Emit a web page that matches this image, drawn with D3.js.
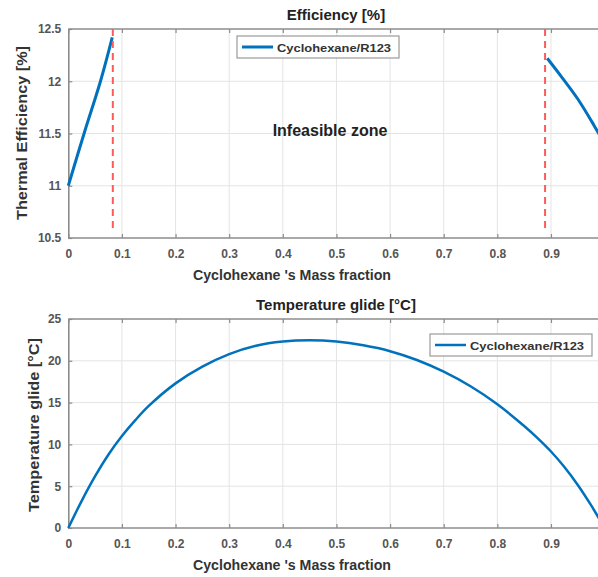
<!DOCTYPE html>
<html>
<head>
<meta charset="utf-8">
<script src="https://cdn.jsdelivr.net/npm/d3@7"></script>
<style>
  body { margin: 0; background: #fff; }
  text { font-family: "Liberation Sans", Arial, sans-serif; font-weight: bold; }
</style>
</head>
<body>
<div id="chart"></div>
<script>
// efficiency, feasible parts only
var effLeftX = [0, 0.03, 0.06, 0.082];
var effLeftY = [11.0, 11.51, 12.0, 12.42];
var effRightX = [0.893, 0.92, 0.95, 0.98, 1.0];
var effRightY = [12.22, 12.04, 11.83, 11.58, 11.4];
var limitX = [0.083, 0.889];

// temperature glide
var glideX = [0, 0.025, 0.05, 0.075, 0.1, 0.125, 0.15, 0.2, 0.25, 0.3, 0.35, 0.4, 0.45, 0.5, 0.55, 0.6, 0.65, 0.7, 0.75, 0.8, 0.85, 0.875, 0.9, 0.925, 0.95, 0.975, 1.0];
var glideY = [0, 3.25, 6.2, 8.8, 11.0, 12.9, 14.6, 17.3, 19.3, 20.8, 21.8, 22.3, 22.45, 22.3, 21.85, 21.15, 20.1, 18.7, 16.95, 14.8, 12.2, 10.75, 9.15, 7.3, 5.15, 2.7, 0];

var xTicks = [0, 0.1, 0.2, 0.3, 0.4, 0.5, 0.6, 0.7, 0.8, 0.9];
var effTicks = [10.5, 11, 11.5, 12, 12.5];
var glideTicks = [0, 5, 10, 15, 20, 25];
var seriesName = "Cyclohexane/R123";
var xTitle = "Cyclohexane 's Mass fraction";

var W = 598, H = 577;
var blue = "#0072bd";

var svg = d3.select("#chart").append("svg")
	.attr("width", W)
	.attr("height", H);

var x = d3.scaleLinear().domain([0, 1]).range([68.3, 604.6]);

function zip(a, b) {
	return a.map(function (v, i) { return [v, b[i]]; });
}

function panel(o) {
	var y = d3.scaleLinear().domain(o.ydom).range([o.bottom, o.top]);
	var g = svg.append("g");

	// grid
	g.selectAll(".gx").data(xTicks.slice(1)).enter().append("line")
		.attr("x1", function (d) { return x(d); })
		.attr("x2", function (d) { return x(d); })
		.attr("y1", o.top).attr("y2", o.bottom)
		.attr("stroke", "#e4e4e4").attr("stroke-width", 1);
	g.selectAll(".gy").data(o.yticks.slice(1, -1)).enter().append("line")
		.attr("x1", x(0)).attr("x2", W)
		.attr("y1", function (d) { return y(d); })
		.attr("y2", function (d) { return y(d); })
		.attr("stroke", "#e4e4e4").attr("stroke-width", 1);

	// axes, ticks inward like matlab
	var ax = g.append("g").attr("transform", "translate(0," + o.bottom + ")")
		.call(d3.axisBottom(x).tickValues(xTicks).tickSizeInner(-4).tickSizeOuter(0)
			.tickPadding(11).tickFormat(d3.format("~g")));
	var axTop = g.append("g").attr("transform", "translate(0," + o.top + ")")
		.call(d3.axisTop(x).tickValues(xTicks).tickSizeInner(-4).tickSizeOuter(0).tickFormat(""));
	var ay = g.append("g").attr("transform", "translate(" + x(0) + ",0)")
		.call(d3.axisLeft(y).tickValues(o.yticks).tickSizeInner(-4).tickSizeOuter(0)
			.tickPadding(7).tickFormat(d3.format("~g")));
	[ax, axTop, ay].forEach(function (a) {
		a.select(".domain").attr("stroke", "#8c8c8c").attr("stroke-width", 1.6);
		a.selectAll(".tick line").attr("stroke", "#8c8c8c").attr("stroke-width", 1.2);
		a.selectAll(".tick text").attr("fill", "#555").style("font-size", "12px")
			.attr("font-family", "Liberation Sans, Arial, sans-serif").attr("font-weight", "bold");
	});
	// top spine spans the whole width
	axTop.select(".domain").attr("d", "M" + x(0) + ",0H" + W);
	ax.select(".domain").attr("d", "M" + x(0) + ",0H" + W);

	var line = d3.line()
		.x(function (d) { return x(d[0]); })
		.y(function (d) { return y(d[1]); })
		.curve(d3.curveCatmullRom.alpha(0.5));

	o.series.forEach(function (s) {
		g.append("path").datum(s)
			.attr("d", line)
			.attr("fill", "none")
			.attr("stroke", blue)
			.attr("stroke-width", o.lw);
	});

	// titles
	g.append("text").attr("x", 336).attr("y", o.top - 9)
		.attr("text-anchor", "middle").style("font-size", "15px").attr("fill", "#222")
		.text(o.title);
	g.append("text").attr("x", 292).attr("y", o.bottom + 42)
		.attr("text-anchor", "middle").style("font-size", "14px").attr("fill", "#333")
		.attr("textLength", 198).attr("lengthAdjust", "spacingAndGlyphs")
		.text(xTitle);
	g.append("text")
		.attr("transform", "translate(" + o.ylabX + "," + o.ylabY + ") rotate(-90)")
		.attr("text-anchor", "middle").style("font-size", "14px").attr("fill", "#333")
		.attr("textLength", 174).attr("lengthAdjust", "spacingAndGlyphs")
		.text(o.ylabel);

	// legend
	var lg = g.append("g").attr("transform", "translate(" + o.leg[0] + "," + o.leg[1] + ")");
	lg.append("rect").attr("width", 162).attr("height", 22)
		.attr("fill", "#fff").attr("stroke", "#9a9a9a").attr("stroke-width", 1.2);
	lg.append("line").attr("x1", 5).attr("x2", 36).attr("y1", 11).attr("y2", 11)
		.attr("stroke", blue).attr("stroke-width", o.lw);
	lg.append("text").attr("x", 40).attr("y", 15.5)
		.style("font-size", "11px").attr("fill", "#333")
		.attr("textLength", 114).attr("lengthAdjust", "spacingAndGlyphs")
		.text(seriesName);

	return { g: g, y: y };
}

var top1 = panel({
	top: 29, bottom: 238, ydom: [10.5, 12.5], yticks: effTicks,
	series: [zip(effLeftX, effLeftY), zip(effRightX, effRightY)],
	lw: 3, title: "Efficiency [%]", ylabel: "Thermal Efficiency [%]",
	ylabX: 27, ylabY: 133, leg: [237, 36]
});

// feasibility limits
top1.g.selectAll(".lim").data(limitX).enter().append("line")
	.attr("x1", function (d) { return x(d); })
	.attr("x2", function (d) { return x(d); })
	.attr("y1", top1.y(12.5)).attr("y2", top1.y(10.55))
	.attr("stroke", "#ff5a5a").attr("stroke-width", 2)
	.attr("stroke-dasharray", "7,5");

top1.g.append("text").attr("x", 330).attr("y", 136)
	.attr("text-anchor", "middle").style("font-size", "16px").attr("fill", "#222")
	.text("Infeasible zone");

panel({
	top: 319, bottom: 528, ydom: [0, 25], yticks: glideTicks,
	series: [zip(glideX, glideY)],
	lw: 2.5, title: "Temperature glide [°C]", ylabel: "Temperature glide [°C]",
	ylabX: 39, ylabY: 425, leg: [430, 334]
});
</script>
</body>
</html>
